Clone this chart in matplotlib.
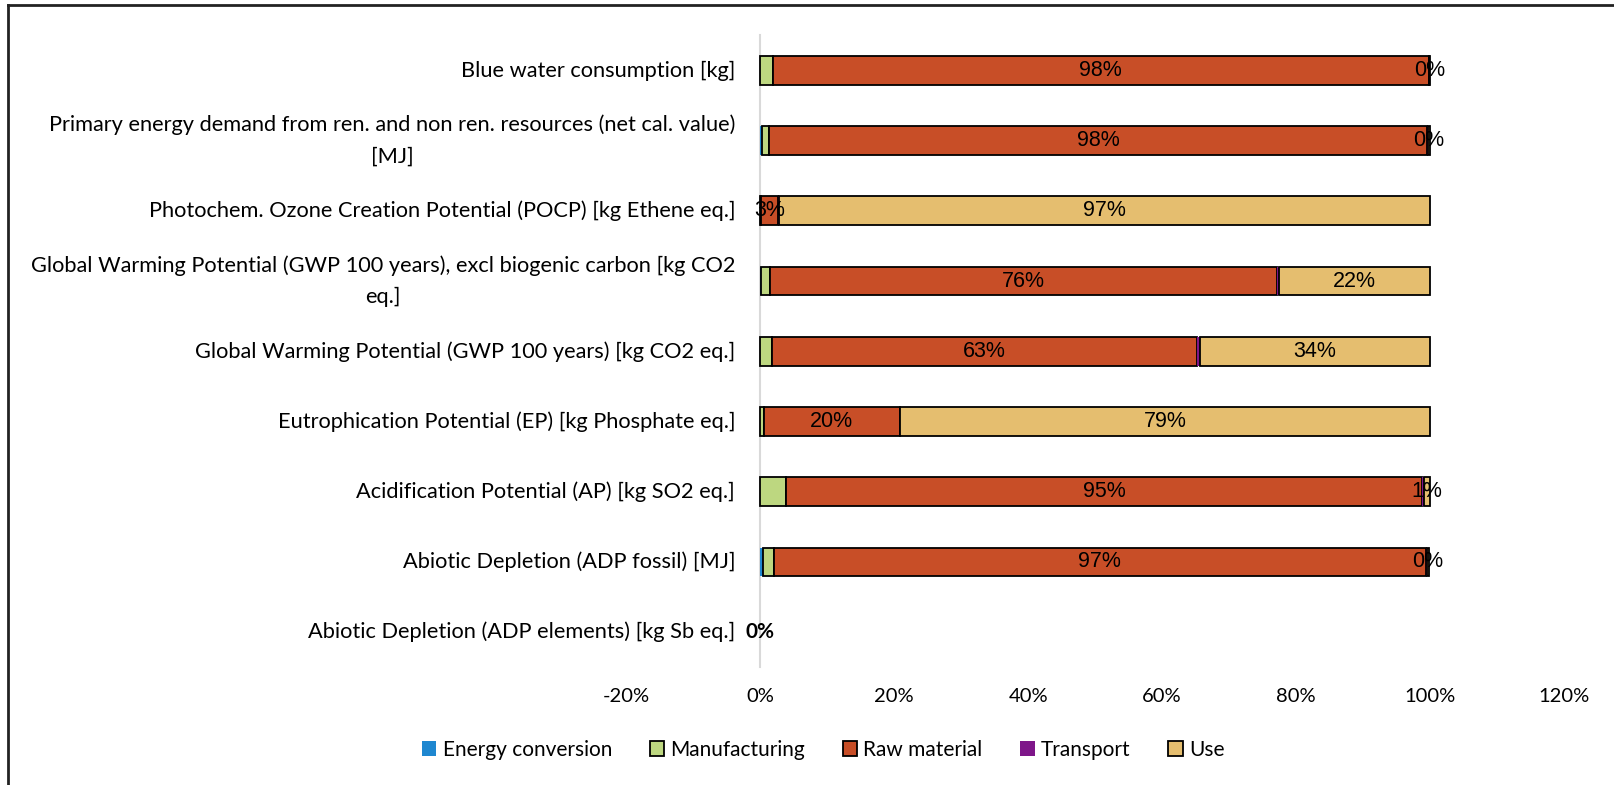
import matplotlib.pyplot as plt
from matplotlib.lines import Line2D
import numpy as np

# impact categories, top to bottom
categories = [
    'Blue water consumption [kg]',
    'Primary energy demand from ren. and non ren. resources (net cal. value)\n[MJ]',
    'Photochem. Ozone Creation Potential (POCP) [kg Ethene eq.]',
    'Global Warming Potential (GWP 100 years), excl biogenic carbon [kg CO2\neq.]',
    'Global Warming Potential (GWP 100 years) [kg CO2 eq.]',
    'Eutrophication Potential (EP) [kg Phosphate eq.]',
    'Acidification Potential (AP) [kg SO2 eq.]',
    'Abiotic Depletion (ADP fossil) [MJ]',
    'Abiotic Depletion (ADP elements) [kg Sb eq.]',
]

# share of each life cycle phase in %
energy_conversion = [0.0, 0.2, 0.0, 0.1, 0.0, 0.0, 0.0, 0.4, 0.0]
manufacturing = [1.9, 1.1, 0.1, 1.3, 1.8, 0.5, 3.9, 1.6, 0.0]
raw_material = [97.9, 98.3, 2.6, 75.8, 63.4, 20.4, 94.9, 97.4, 0.0]
transport = [0.05, 0.1, 0.05, 0.3, 0.5, 0.0, 0.3, 0.1, 0.0]
use = [0.15, 0.3, 97.25, 22.5, 34.3, 79.1, 0.9, 0.3, 0.0]

series = [
    ('Energy conversion', energy_conversion, '#1E87D0', 'none'),
    ('Manufacturing', manufacturing, '#BDD780', 'black'),
    ('Raw material', raw_material, '#C84E27', 'black'),
    ('Transport', transport, '#7E1689', 'none'),
    ('Use', use, '#E5BE6F', 'black'),
]
labelled = ['Raw material', 'Use']

calibri_like = 'Lato'

fig = plt.figure(figsize=(16.14, 7.85), dpi=100)
ax = fig.add_axes([0.388, 0.150, 0.581, 0.805])

# category axis sits at 0 %
for s in ['top', 'right', 'bottom']:
    ax.spines[s].set_visible(False)
ax.spines['left'].set_position(('data', 0))
ax.spines['left'].set_color('#D9D9D9')
ax.spines['left'].set_linewidth(1.5)
ax.spines['left'].set_zorder(0)

y = np.arange(len(categories))
left = np.zeros(len(categories))
handles = []
for name, vals, color, edge in series:
    vals = np.array(vals)
    bars = ax.barh(y, vals, left=left, height=0.41, color=color,
                   edgecolor=edge, linewidth=1.3, label=name)
    for b, v in zip(bars, vals):
        if v == 0:
            b.set_linewidth(0)
    if name in labelled:
        labels = [f'{v:.0f}%' for v in vals]
        if name == 'Use':
            labels[-1] = ''
        texts = ax.bar_label(bars, labels=labels, label_type='center',
                             fontsize=15.5, family='Liberation Sans')
        if name == 'Raw material':
            texts[-1].set_fontweight('bold')
            texts[-1].set_family(calibri_like)
            texts[-1].set_fontsize(15)
    left += vals
    handles.append(bars)

ax.set_xlim(-20, 120)
ax.set_ylim(len(categories) - 0.5, -0.5)
ax.set_xticks(np.arange(-20, 121, 20))
ax.set_xticklabels([f'{t}%' for t in range(-20, 121, 20)],
                   family=calibri_like, fontsize=14.5)
ax.set_yticks(y)
ax.set_yticklabels(categories, family=calibri_like, fontsize=15.7)
for t in ax.get_yticklabels():
    t.set_multialignment('center')
    t.set_linespacing(1.7)
    t.set_verticalalignment('center')
ax.tick_params(axis='both', length=0)
ax.tick_params(axis='y', pad=18)
ax.tick_params(axis='x', pad=15)

fig.legend(handles=handles, loc='center', bbox_to_anchor=(0.51, 0.045),
           ncol=5, frameon=False, handlelength=0.7, handleheight=0.7,
           handletextpad=0.3, columnspacing=1.8,
           prop={'family': calibri_like, 'size': 15})

# frame lines on the left and top of the chart area
fig.add_artist(Line2D([0.0052, 0.0052], [0, 0.9935], color='#222222', lw=2,
                      transform=fig.transFigure))
fig.add_artist(Line2D([0.0052, 1], [0.9935, 0.9935], color='#222222', lw=2,
                      transform=fig.transFigure))

fig.savefig('out.png', dpi=100)
